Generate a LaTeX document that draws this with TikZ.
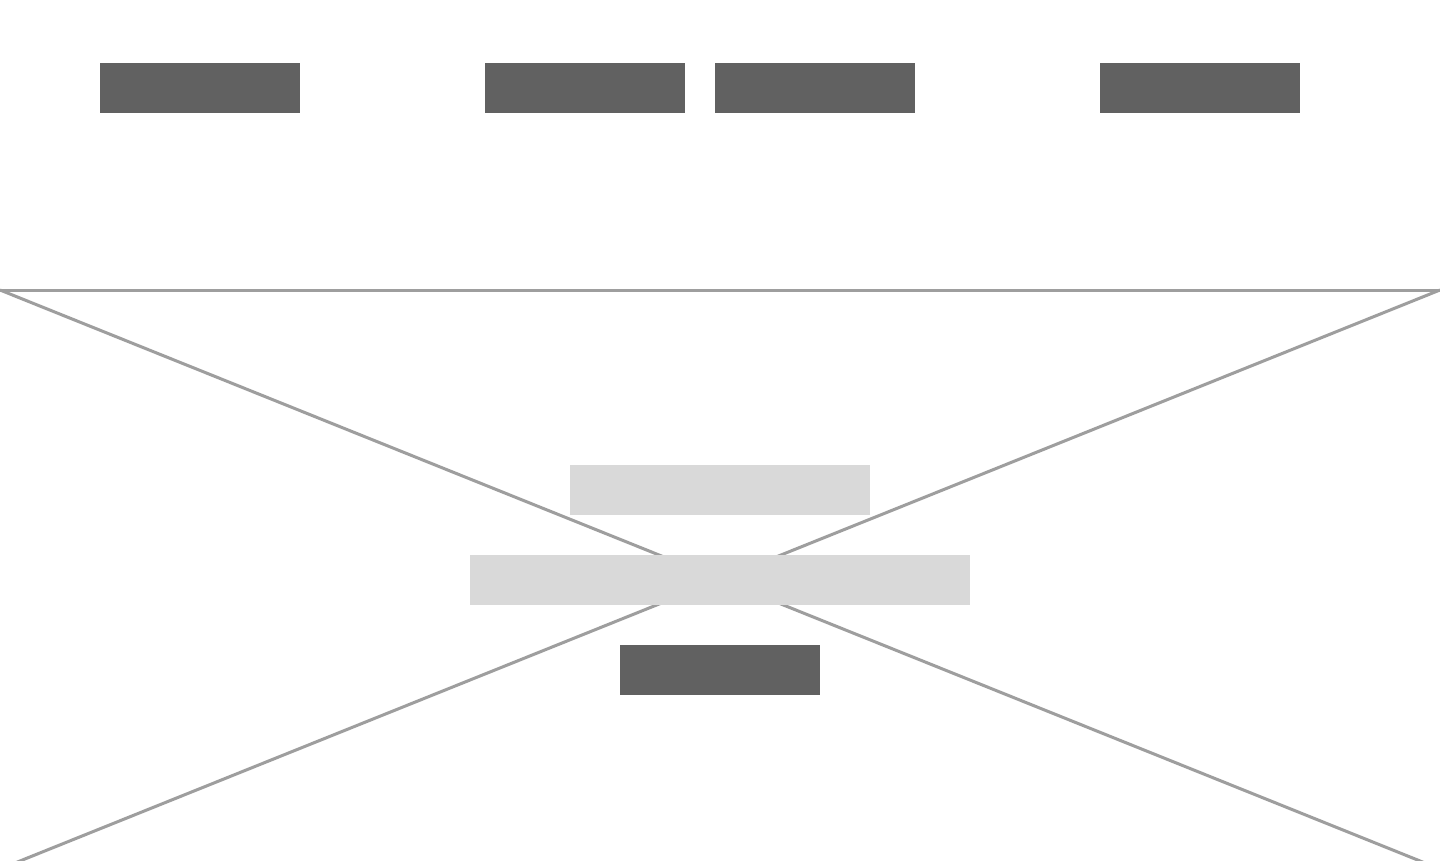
\documentclass[tikz,border=0pt]{standalone}
\definecolor{linegray}{HTML}{9E9E9E}
\definecolor{darkbox}{HTML}{616161}
\definecolor{lightbox}{HTML}{D9D9D9}
\tikzset{
  darkblock/.style={draw=none, fill=darkbox, minimum width=200pt, minimum height=50pt, inner sep=0pt, outer sep=0pt},
  lightblock/.style={draw=none, fill=lightbox, minimum height=50pt, inner sep=0pt, outer sep=0pt},
  frameline/.style={draw=linegray, line width=3pt}
}
\begin{document}
\begin{tikzpicture}[x=1pt,y=-1pt]
\useasboundingbox (0,0) rectangle (1440,860);
\fill[white] (0,0) rectangle (1440,860);
\coordinate (tl) at (0,290);
\coordinate (tr) at (1440,290);
\coordinate (bl) at (0,869);
\coordinate (br) at (1440,869);
\begin{scope}
\clip (0,0) rectangle (1440,860);
\draw[frameline] (tl) -- (tr);
\draw[frameline] (tl) -- (br);
\draw[frameline] (tr) -- (bl);
\end{scope}
\node[darkblock] (h1) at (200,88) {};
\node[darkblock] (h2) at (585,88) {};
\node[darkblock] (h3) at (815,88) {};
\node[darkblock] (h4) at (1200,88) {};
\node[lightblock, minimum width=300pt] (l1) at (720,490) {};
\node[lightblock, minimum width=500pt] (l2) at (720,580) {};
\node[darkblock] (b1) at (720,670) {};
\end{tikzpicture}
\end{document}
